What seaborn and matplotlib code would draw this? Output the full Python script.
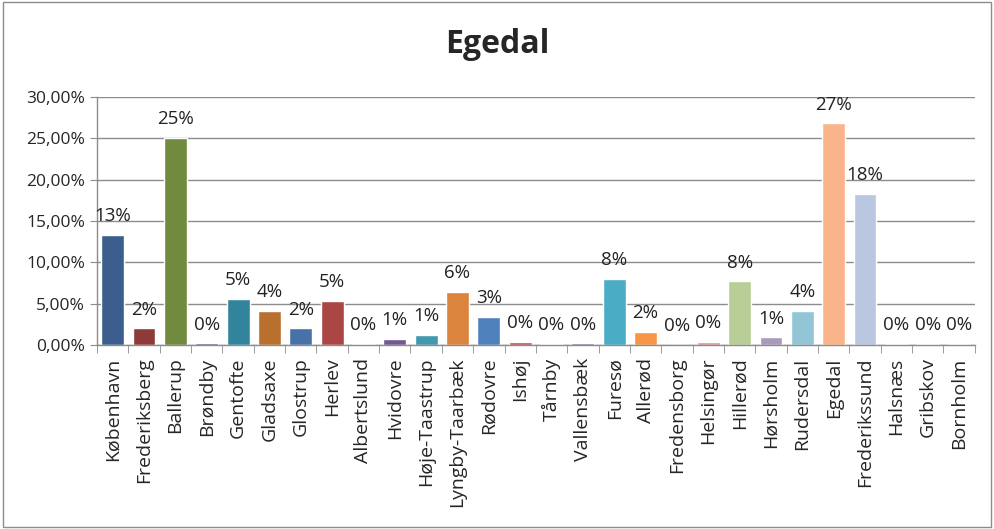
import matplotlib.pyplot as plt
import matplotlib.ticker as mticker
import seaborn as sns
import pandas as pd
import numpy as np

# Kommuner og andele
kommuner = ["København", "Frederiksberg", "Ballerup", "Brøndby", "Gentofte", "Gladsaxe",
            "Glostrup", "Herlev", "Albertslund", "Hvidovre", "Høje-Taastrup",
            "Lyngby-Taarbæk", "Rødovre", "Ishøj", "Tårnby", "Vallensbæk", "Furesø",
            "Allerød", "Fredensborg", "Helsingør", "Hillerød", "Hørsholm", "Rudersdal",
            "Egedal", "Frederikssund", "Halsnæs", "Gribskov", "Bornholm"]
andele = [0.133, 0.020, 0.250, 0.002, 0.056, 0.041, 0.020, 0.053, 0.001, 0.007, 0.012,
          0.064, 0.034, 0.004, 0.0015, 0.002, 0.080, 0.016, 0.0, 0.004, 0.077, 0.009,
          0.041, 0.268, 0.183, 0.001, 0.001, 0.001]
etiketter = ["13%", "2%", "25%", "0%", "5%", "4%", "2%", "5%", "0%", "1%", "1%", "6%",
             "3%", "0%", "0%", "0%", "8%", "2%", "0%", "0%", "8%", "1%", "4%", "27%",
             "18%", "0%", "0%", "0%"]
farver = ["#3B5E8F", "#8E3A38", "#728A3E", "#5F4A7E", "#31849B", "#B9702F", "#4672A8",
          "#AA4643", "#89A54E", "#71588F", "#4198AF", "#DB843D", "#4F81BD", "#C0504D",
          "#9BBB59", "#8064A2", "#4BACC6", "#F79646", "#95B3D7", "#D99694", "#B9CD96",
          "#A99BBD", "#92C5D5", "#F9B48A", "#B9C7E0", "#E6B9B8", "#D7E4BD", "#CCC1DA"]

df = pd.DataFrame({"kommune": kommuner, "andel": andele})

sns.set_style("white")
plt.rcParams['font.family'] = ['Open Sans', 'DejaVu Sans']

fig = plt.figure(figsize=(9.94, 5.29), dpi=100)
ax = fig.add_axes([0.0976, 0.348, 0.883, 0.469])

sns.barplot(data=df, x="kommune", y="andel", hue="kommune", palette=farver,
            legend=False, width=0.73, saturation=1, ax=ax)

for cont, lab in zip(ax.containers, etiketter):
    ax.bar_label(cont, labels=[lab], padding=7, fontsize=13.5, color="#222222")

ax.set_ylim(0, 0.30)
ax.set_xlim(-0.5, len(kommuner) - 0.5)
ax.yaxis.set_major_locator(mticker.MultipleLocator(0.05))
ax.yaxis.set_major_formatter(mticker.FuncFormatter(lambda v, p: f"{v*100:.2f}%".replace(".", ",")))
ax.yaxis.grid(True, color="#8c8c8c", linewidth=1)
ax.set_axisbelow(True)

ax.set_xticks(range(len(kommuner)))
ax.set_xticklabels(kommuner, rotation=90, fontsize=14)
ax.xaxis.set_minor_locator(mticker.FixedLocator(np.arange(-0.5, len(kommuner), 1)))
ax.tick_params(axis="x", which="major", length=0, pad=9)
ax.tick_params(axis="x", which="minor", length=6, color="#8c8c8c", direction="out", bottom=True)
ax.tick_params(axis="y", length=5, color="#8c8c8c", direction="out", left=True, labelsize=12.5)

for s in ["top", "right"]:
    ax.spines[s].set_visible(False)
for s in ["left", "bottom"]:
    ax.spines[s].set_color("#8c8c8c")
    ax.spines[s].set_linewidth(1)

ax.set_xlabel("")
ax.set_ylabel("")
fig.suptitle("Egedal", y=0.948, fontsize=23, fontweight="bold")

fig.patches.append(plt.Rectangle((0.003, 0.004), 0.994, 0.992, transform=fig.transFigure,
                                 fill=False, edgecolor="#8c8c8c", linewidth=1))

fig.savefig("out.png", dpi=100)
